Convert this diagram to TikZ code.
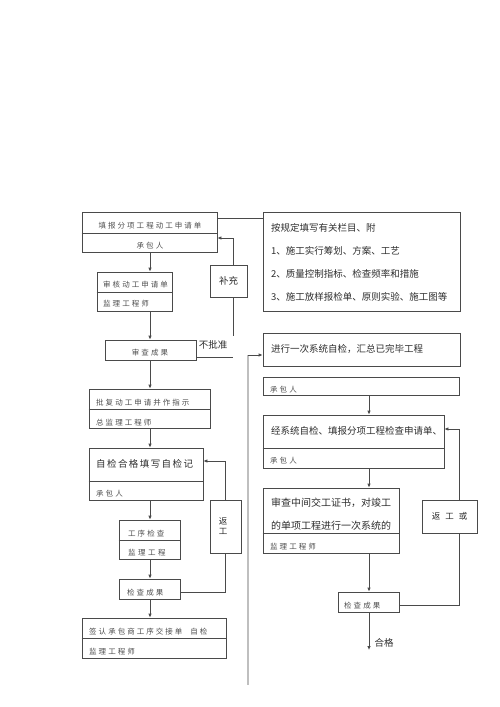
\documentclass[tikz,border=0pt]{standalone}
\usepackage{fontspec}
\newfontfamily\cjk{Noto Sans CJK SC}
\newfontfamily\cjks[LetterSpace=27]{Noto Sans CJK SC}
\newfontfamily\cjkm[LetterSpace=15]{Noto Sans CJK SC}
\usetikzlibrary{arrows.meta}
\definecolor{ln}{HTML}{4A4A4A}
\definecolor{tx}{HTML}{2E2E2E}
\definecolor{sm}{HTML}{4F4F4F}
\tikzset{
  box/.style={draw=ln, line width=0.8pt, inner sep=0pt, fill=white},
  arr/.style={draw=ln, line width=0.8pt, -{Latex[length=4pt,width=3.6pt]}},
  ln/.style={draw=ln, line width=0.8pt},
  big/.style={inner sep=0pt, text=tx, font=\cjk\fontsize{9.5}{11}\selectfont},
  small/.style={inner sep=0pt, text=sm, font=\cjks\fontsize{7.5}{8.5}\selectfont},
  lw/.style={anchor=west}
}
\begin{document}
\begin{tikzpicture}[x=1pt,y=-1pt]
\useasboundingbox (0,0) rectangle (500,707);
\coordinate (cx) at (150,0);
\coordinate (rx) at (369,0);
\coordinate (vx) at (233,0);
\coordinate (fx) at (459,0);
% left column boxes
\node[box, minimum width=135pt, minimum height=40pt] (b1) at (149.5,232) {};
\node[box, minimum width=75pt, minimum height=39pt] (b2) at (134.5,291.5) {};
\node[box, minimum width=91pt, minimum height=20pt] (b3) at (150.5,350) {};
\node[box, minimum width=121pt, minimum height=39pt] (b7) at (149.5,408.5) {};
\node[box, minimum width=114pt, minimum height=52pt] (b8) at (146,474) {};
\node[box, minimum width=61pt, minimum height=39pt] (b9) at (149.5,539.5) {};
\node[box, minimum width=61pt, minimum height=20pt] (b10) at (149.5,589) {};
\node[box, minimum width=144pt, minimum height=40pt] (b11) at (154,638) {};
\node[box, minimum width=37pt, minimum height=32pt] (bc) at (228.5,281) {};
\node[box, minimum width=31pt, minimum height=53pt] (rg) at (225.5,526.5) {};
% right column boxes
\node[box, minimum width=197pt, minimum height=99pt] (r1) at (361.5,261.5) {};
\node[box, minimum width=197pt, minimum height=33pt] (r2) at (361.5,349.5) {};
\node[box, minimum width=196pt, minimum height=18pt] (r3) at (361,386) {};
\node[box, minimum width=181pt, minimum height=53pt] (r4) at (353.5,441.5) {};
\node[box, minimum width=136pt, minimum height=65pt] (r5) at (331,520.5) {};
\node[box, minimum width=61pt, minimum height=20pt] (r6) at (368.5,602) {};
\node[box, minimum width=55pt, minimum height=33pt] (rf) at (449.5,516.5) {};
% dividers
\draw[ln] (b1.west |- 0,233) -- (b1.east |- 0,233);
\draw[ln] (b2.west |- 0,292) -- (b2.east |- 0,292);
\draw[ln] (b7.west |- 0,409) -- (b7.east |- 0,409);
\draw[ln] (b8.west |- 0,481) -- (b8.east |- 0,481);
\draw[ln] (b9.west |- 0,540) -- (b9.east |- 0,540);
\draw[ln] (b11.west |- 0,638) -- (b11.east |- 0,638);
\draw[ln] (r4.west |- 0,448) -- (r4.east |- 0,448);
\draw[ln] (r5.west |- 0,533) -- (r5.east |- 0,533);
% left texts
\node[small] (t1a) at (150,226) {填报分项工程动工申请单};
\node[small] (t1b) at (150,246) {承包人};
\node[small,lw] (t2a) at (103,285) {审核动工申请单};
\node[small,lw] (t2b) at (103,304) {监理工程师};
\node[small] (t3) at (150,352.5) {审查成果};
\node[big] (nb) at (213,345) {不批准};
\node[small,lw] (t7a) at (96,403) {批复动工申请并作指示};
\node[small,lw] (t7b) at (96,423) {总监理工程师};
\node[big,lw,font=\cjkm\fontsize{9.5}{11}\selectfont] (t8a) at (96,464) {自检合格填写自检记};
\node[small,lw] (t8b) at (96,494) {承包人};
\node[small,lw] (t9a) at (128,534) {工序检查};
\node[small,lw] (t9b) at (128,553) {监\hspace{2.5pt}理\hspace{2.5pt}工\hspace{2.5pt}程};
\node[small,lw] (t10) at (127,593) {检查成果};
\node[small,lw] (t11a) at (89,632) {签认承包商工序交接单\hspace{8pt}自检};
\node[small,lw] (t11b) at (89,652) {监理工程师};
\node[big] (tbc) at (228.5,281) {补充};
\node[big, align=center, font=\cjk\fontsize{8.5}{10}\selectfont] (trg) at (223,526) {返\\工};
% right texts
\node[big,lw] (r1a) at (271,228) {按规定填写有关栏目、附};
\node[big,lw] (r1b) at (271,251) {1、施工实行筹划、方案、工艺};
\node[big,lw] (r1c) at (271,274) {2、质量控制指标、检查频率和措施};
\node[big,lw] (r1d) at (271,297) {3、施工放样报检单、原则实验、施工图等};
\node[big,lw] (r2a) at (271,349) {进行一次系统自检，汇总已完毕工程};
\node[small,lw] (r3a) at (270,390) {承包人};
\node[big,lw] (r4a) at (271,431) {经系统自检、填报分项工程检查申请单、};
\node[small,lw] (r4b) at (270,461) {承包人};
\node[big,lw,font=\cjk\fontsize{10}{11}\selectfont] (r5a) at (271,503) {审查中间交工证书，对竣工};
\node[big,lw,font=\cjk\fontsize{10}{11}\selectfont] (r5b) at (271,526) {的单项工程进行一次系统的};
\node[small,lw] (r5c) at (270,547) {监理工程师};
\node[small,lw] (r6a) at (344,606) {检查成果};
\node[big, font=\cjk\fontsize{8.5}{10}\selectfont] (rfa) at (449.5,516) {返\hspace{5pt}工\hspace{5pt}或};
\node[big] (ok) at (384,643) {合格};
\coordinate (okend) at (369,650);
% left connectors
\draw[arr] (b1.south -| cx) -- (b2.north -| cx);
\draw[arr] (b2.south -| cx) -- (b3.north -| cx);
\draw[arr] (b3.south -| cx) -- (b7.north -| cx);
\draw[arr] (b7.south -| cx) -- (b8.north -| cx);
\draw[arr] (b8.south -| cx) -- (b9.north -| cx);
\draw[arr] (b9.south -| cx) -- (b10.north -| cx);
\draw[arr] (b10.south -| cx) -- (b11.north -| cx);
\draw[ln] ([yshift=14pt]b1.east) -- ([yshift=14pt]b1.east -| r1.west);
\draw[ln] ([yshift=-7pt]b3.east) -- ([yshift=-7pt]b3.east -| vx);
\draw[ln] (bc.south -| vx) -- ++(0,39);
\draw[arr] (bc.north -| vx) |- ([yshift=-6pt]b1.east);
\draw[ln] ([yshift=-3pt]b10.east) -| (rg.south);
\draw[arr] (rg.north) |- ([yshift=13pt]b8.east);
% divider line and right connectors
\coordinate (g1) at (248,355);
\coordinate (g2) at (248,685);
\draw[draw=black!25, line width=1.2pt] (g1) -- (g2);
\draw[arr] (g1) -- (g1 -| r2.west);
\draw[arr] (r3.south -| rx) -- (r4.north -| rx);
\draw[arr] (r4.south -| rx) -- (r5.north -| rx);
\draw[arr] (r5.south -| rx) -- (r6.north -| rx);
\draw[arr] (r6.south -| rx) -- (okend);
\draw[ln] ([yshift=-3pt]r6.east) -| (rf.south -| fx);
\draw[arr] (rf.north -| fx) |- ([yshift=12.5pt]r4.east);
\end{tikzpicture}
\end{document}
